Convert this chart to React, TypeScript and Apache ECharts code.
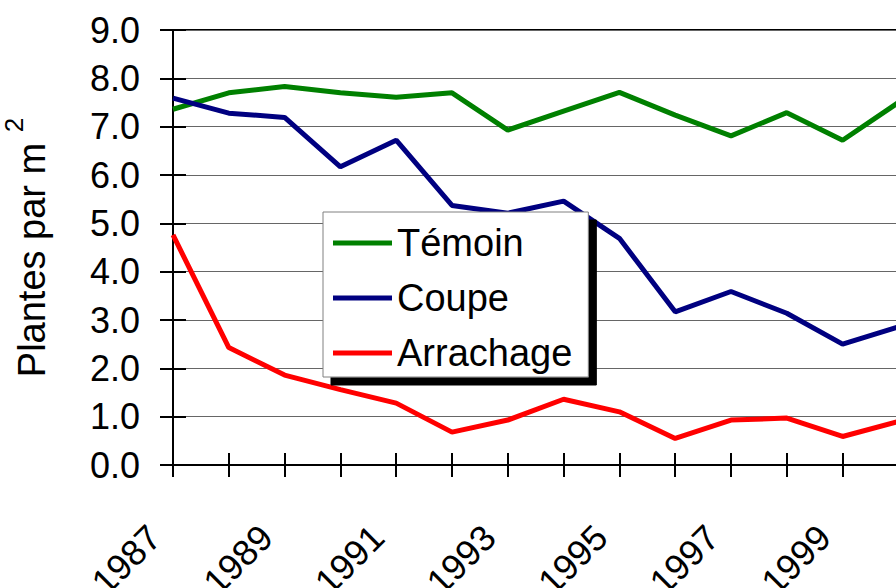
import React, { useEffect, useRef } from "react";
import * as echarts from "echarts";

const years = ["1987","1988","1989","1990","1991","1992","1993","1994","1995","1996","1997","1998","1999","2000"];
const temoin = [7.36, 7.70, 7.83, 7.70, 7.61, 7.70, 6.93, 7.32, 7.71, 7.24, 6.81, 7.29, 6.72, 7.50];
const coupe = [7.59, 7.28, 7.19, 6.17, 6.72, 5.37, 5.21, 5.46, 4.69, 3.17, 3.59, 3.14, 2.50, 2.86];
const arrachage = [4.76, 2.43, 1.86, 1.56, 1.28, 0.68, 0.93, 1.36, 1.10, 0.55, 0.93, 0.97, 0.59, 0.90];
const seriesNames = ["Témoin", "Coupe", "Arrachage"];
const yTitle = "Plantes par m ";
const yTitleSup = "2";

const FONT = "'Liberation Sans', Arial, sans-serif";

export default function App() {
  const ref = useRef<HTMLDivElement>(null);
  useEffect(() => {
    if (!ref.current) return;
    const chart = echarts.init(ref.current, null, { renderer: "svg" });
    const tickStyle = { color: "#000", width: 2 };
    chart.setOption({
      animation: false,
      backgroundColor: "#fff",
      textStyle: { fontFamily: FONT, color: "#000" },
      grid: {
        left: 173, top: 30, right: 21.6, bottom: 123,
        containLabel: false,
        outerBoundsMode: "none",
        show: true, borderColor: "#000", borderWidth: 2, backgroundColor: "transparent",
      },
      legend: {
        data: seriesNames,
        orient: "vertical",
        left: 323, top: 212,
        padding: [10, 16, 3, 10],
        icon: "rect",
        itemWidth: 59, itemHeight: 5, itemGap: 13, itemTextGap: 10,
        backgroundColor: "#fff",
        borderColor: "#808080", borderWidth: 1,
        shadowColor: "#000", shadowBlur: 0, shadowOffsetX: 8, shadowOffsetY: 8,
        textStyle: { fontSize: 38, lineHeight: 42, color: "#000", fontFamily: FONT },
      },
      xAxis: [
        {
          type: "category", data: years, boundaryGap: false, position: "bottom",
          axisLine: { lineStyle: { color: "#000", width: 2 } },
          axisTick: { show: true, interval: 0, inside: false, length: 12, lineStyle: tickStyle },
          axisLabel: {
            interval: 1, rotate: 45, fontSize: 36, color: "#000", fontFamily: FONT,
            margin: 48, padding: [0, 26, 53, 0],
          },
          splitLine: { show: false },
        },
        {
          type: "category", data: years, boundaryGap: false, position: "bottom", offset: 0,
          axisLine: { show: false },
          axisTick: { show: true, interval: 0, inside: true, length: 12, lineStyle: tickStyle },
          axisLabel: { show: false },
          splitLine: { show: false },
        },
      ],
      yAxis: [
        {
          type: "value", min: 0, max: 9, interval: 1, position: "left",
          axisLine: { show: true, lineStyle: { color: "#000", width: 2 } },
          axisTick: { show: true, inside: false, length: 13, lineStyle: tickStyle },
          axisLabel: {
            fontSize: 36, color: "#000", fontFamily: FONT, margin: 33,
            formatter: (v: number) => v.toFixed(1),
          },
          splitLine: { show: true, lineStyle: { color: "#666", width: 1 } },
          name: `{a|${yTitle}}{b|${yTitleSup}}`,
          nameLocation: "middle",
          nameRotate: 90,
          nameGap: 122,
          nameTextStyle: {
            rich: {
              a: { fontSize: 38, fontFamily: FONT, color: "#000", lineHeight: 44, verticalAlign: "bottom" },
              b: { fontSize: 26, fontFamily: FONT, color: "#000", lineHeight: 28, padding: [0, 0, 24, 0], verticalAlign: "bottom" },
            },
          },
        },
        {
          type: "value", min: 0, max: 9, interval: 1, position: "left", offset: 0,
          axisLine: { show: false },
          axisTick: { show: true, inside: true, length: 13, lineStyle: tickStyle },
          axisLabel: { show: false },
          splitLine: { show: false },
        },
      ],
      series: [
        { name: seriesNames[0], type: "line", data: temoin, symbol: "none", lineStyle: { color: "#008000", width: 5 }, itemStyle: { color: "#008000" } },
        { name: seriesNames[1], type: "line", data: coupe, symbol: "none", lineStyle: { color: "#000080", width: 5 }, itemStyle: { color: "#000080" } },
        { name: seriesNames[2], type: "line", data: arrachage, symbol: "none", lineStyle: { color: "#ff0000", width: 5 }, itemStyle: { color: "#ff0000" } },
      ],
    });
    return () => chart.dispose();
  }, []);
  return (
    <div style={{ position: "fixed", left: 0, top: 0, width: 896, height: 588, overflow: "hidden", background: "#fff" }}>
      <div ref={ref} style={{ width: 920, height: 588 }} />
    </div>
  );
}
